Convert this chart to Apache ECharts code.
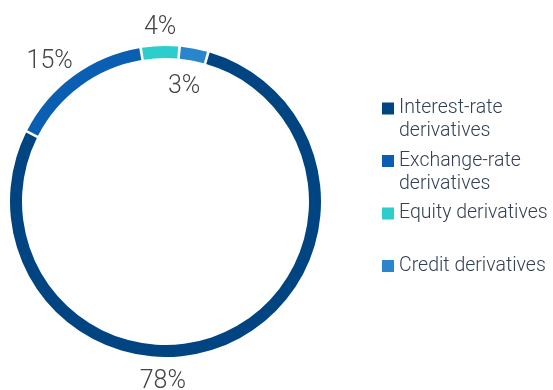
<!DOCTYPE html>
<html>
<head>
<meta charset="utf-8">
<script src="https://cdn.jsdelivr.net/npm/echarts@6/dist/echarts.min.js"></script>
<style>
html,body{margin:0;padding:0;background:#fff;}
#chart{width:553px;height:390px;}
</style>
</head>
<body>
<div id="chart"></div>
<script>
const categories = ['Interest-rate derivatives', 'Exchange-rate derivatives', 'Equity derivatives', 'Credit derivatives'];
const shares = [78, 15, 4, 3];
const legendText = ['Interest-rate\nderivatives', 'Exchange-rate\nderivatives', 'Equity derivatives\n ', 'Credit derivatives\n '];
const colors = ['#004481', '#0b5fb2', '#2dcccd', '#2986cc'];
const labelNudges = [[-70, 38], [-19, -14], [5, -18], [-15, 38]];

const chart = echarts.init(document.getElementById('chart'), null, {renderer: 'canvas'});
chart.setOption({
  animation: false,
  color: colors,
  legend: {
    orient: 'vertical',
    left: 382,
    top: 97,
    padding: 0,
    itemGap: 6.5,
    itemWidth: 12,
    itemHeight: 35,
    icon: 'path://M0,0h12v12h-12zM0,35h0.01v-0.01z',
    selectedMode: false,
    data: categories,
    formatter: function (name) { return legendText[categories.indexOf(name)]; },
    textStyle: {fontFamily: 'Roboto', fontWeight: 300, fontSize: 19.5, lineHeight: 23, color: '#333f52'}
  },
  series: [{
    type: 'pie',
    center: [165.5, 201.5],
    radius: [143.5, 155.5],
    startAngle: 74,
    padAngle: 1,
    silent: true,
    avoidLabelOverlap: false,
    label: {
      show: true,
      position: 'outside',
      formatter: '{c}%',
      fontFamily: 'Roboto',
      fontWeight: 300,
      fontSize: 25,
      color: '#444444'
    },
    labelLine: {show: false, length: 0, length2: 0},
    labelLayout: function (p) {
      const n = labelNudges[p.dataIndex];
      return {dx: n[0], dy: n[1], align: 'center', verticalAlign: 'middle'};
    },
    data: categories.map((c, i) => ({name: c, value: shares[i]}))
  }]
});
</script>
</body>
</html>
